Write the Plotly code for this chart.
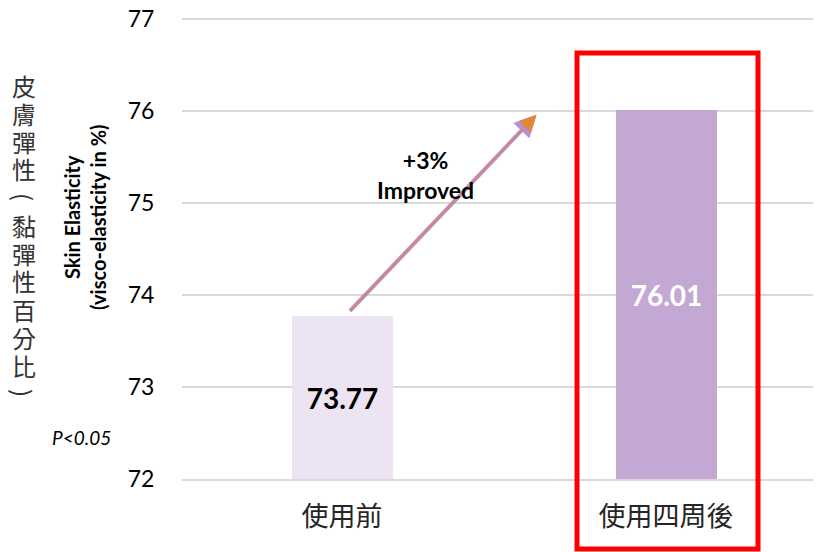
import plotly.graph_objects as go

# data
categories = ["使用前", "使用四周後"]
values = [73.77, 76.01]
bar_colors = ["#ece4f2", "#c4a8d4"]
label_colors = ["black", "white"]
y_ticks = [72, 73, 74, 75, 76, 77]

zh_title = "皮膚彈性(黏彈性百分比)"
CJK = "Noto Sans CJK TC, Noto Sans CJK SC, sans-serif"
LAT = "Lato, Open Sans, sans-serif"

# plot area on screen (page body adds an 8px offset)
PL, PR, PT, PB = 182, 821, 16, 479


def px(x):
    return (x - PL) / (PR - PL)


def py(y):
    return (PB - y) / (PB - PT)


fig = go.Figure()

fig.add_trace(go.Bar(
    x=[0, 1],
    y=[v - y_ticks[0] for v in values],
    base=y_ticks[0],
    width=0.312,
    marker_color=bar_colors,
    marker_line_width=0,
    text=[f"{v:.2f}" for v in values],
    textposition="inside",
    insidetextanchor="middle",
    textfont=dict(family=LAT, size=28, color=label_colors, weight="bold"),
    showlegend=False,
))

# improvement arrow, from bar 1 value to bar 2 value
for col, w in [("#b58fd8", 4), ("#e0883a", 1.3)]:
    fig.add_annotation(
        x=0.6, y=values[1] - 0.05, ax=0.02, ay=values[0] + 0.04,
        xref="x", yref="y", axref="x", ayref="y",
        text="", showarrow=True, arrowhead=2, arrowsize=1.1 if w > 2 else 2.6,
        arrowwidth=w, arrowcolor=col,
    )

fig.add_annotation(
    x=0.256, y=75.3, xref="x", yref="y", showarrow=False,
    xanchor="center", yanchor="middle",
    text="+3%<br>Improved", align="center",
    font=dict(family=LAT, size=23, color="black", weight="bold"),
)

# vertical chinese axis title, one character per line (brackets turned)
for i, ch in enumerate(zh_title):
    fig.add_annotation(
        x=px(24), y=py(85 + 28 * i),
        xref="paper", yref="paper", showarrow=False, text=ch,
        textangle=90 if ch in "()" else 0,
        xanchor="center", yanchor="middle",
        font=dict(family=CJK, size=24, color="#333333"),
    )
fig.add_annotation(
    x=px(85), y=py(217), xref="paper", yref="paper", showarrow=False,
    xanchor="center", yanchor="middle",
    text="Skin Elasticity<br>(visco-elasticity in %)", textangle=-90,
    font=dict(family=LAT, size=20, color="black", weight="bold"),
)
fig.add_annotation(
    x=px(81), y=py(437), xref="paper", yref="paper", showarrow=False,
    xanchor="center", yanchor="middle",
    text="<i>P<0.05</i>",
    font=dict(family=LAT, size=19, color="black"),
)

# red highlight box round the second bar
fig.add_shape(
    type="rect", xref="paper", yref="paper",
    x0=px(577), x1=px(758), y0=py(549), y1=py(53),
    line=dict(color="#ff0000", width=5),
)

fig.update_xaxes(
    tickmode="array", tickvals=[0, 1], ticktext=categories,
    range=[-0.494, 1.478], showgrid=False, zeroline=False,
    showline=True, linecolor="#d9d9d9", linewidth=2,
    ticks="outside", ticklen=13, tickcolor="rgba(0,0,0,0)",
    automargin=False,
    tickfont=dict(family=CJK, size=27, color="#262626"),
)
fig.update_yaxes(
    range=[72, 72 + (PB - PT) / 92], tickvals=y_ticks, showgrid=True,
    gridcolor="#d9d9d9", gridwidth=2, zeroline=False, showline=False,
    ticks="outside", ticklen=22, tickcolor="rgba(0,0,0,0)",
    ticklabeloverflow="allow", automargin=False,
    tickfont=dict(family=LAT, size=23, color="black"),
)

fig.update_layout(
    width=821, height=552,
    margin=dict(l=PL - 8, r=8 + 821 - PR, t=PT - 8, b=552 - PB + 8),
    paper_bgcolor="white", plot_bgcolor="white",
    bargap=0,
)

fig.write_html("out.html")
